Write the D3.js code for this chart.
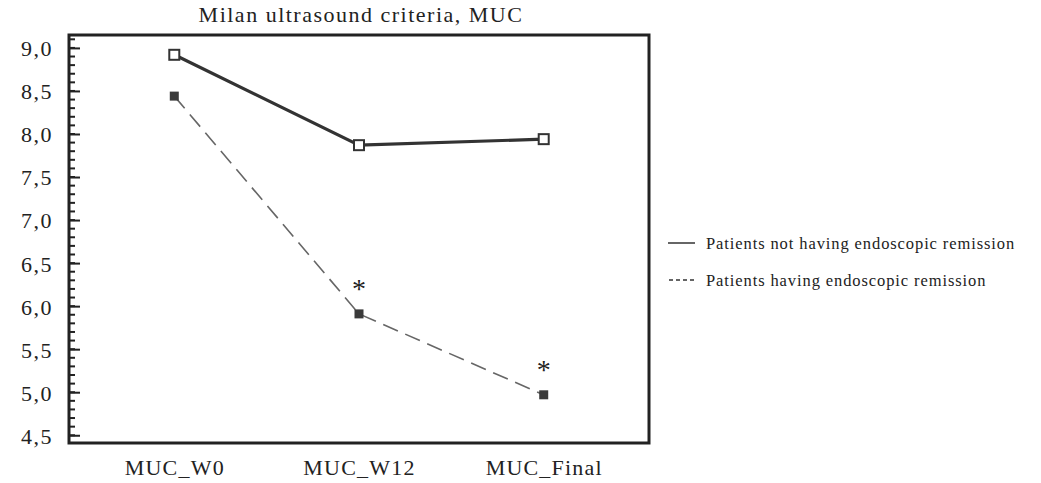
<!DOCTYPE html>
<html><head><meta charset="utf-8">
<script src="https://cdn.jsdelivr.net/npm/d3@7"></script>
<style>body{margin:0;background:#fff}svg{display:block}text{font-family:"Liberation Serif","DejaVu Serif",serif;fill:#222}</style>
</head><body><svg id="c" width="1041" height="483"></svg>
<script>
const categories = ["MUC_W0", "MUC_W12", "MUC_Final"];
const notRemission = [8.92, 7.87, 7.94];
const remission = [8.44, 5.91, 4.97];
const significant = [false, true, true];
const yTicks = [4.5, 5.0, 5.5, 6.0, 6.5, 7.0, 7.5, 8.0, 8.5, 9.0];
const seriesNames = ["Patients not having endoscopic remission", "Patients having endoscopic remission"];
const title = "Milan ultrasound criteria, MUC";

const svg = d3.select("#c");
const L = 69, R = 649, T = 35, B = 443;
const x = d3.scalePoint().domain(categories).range([L, R]).padding(0.57);
const y = d3.scaleLinear().domain([4.41, 9.15]).range([B, T]);
const fmt = v => d3.format(".1f")(v).replace(".", ",");

svg.append("text").attr("x", 361).attr("y", 22).attr("text-anchor", "middle")
  .attr("font-size", 22).attr("letter-spacing", 1.5).text(title);

// minor ticks
const minor = d3.range(4.5, 9.11, 0.1).map(v => +v.toFixed(1));
svg.append("g").selectAll("line").data(minor).join("line")
  .attr("x1", L).attr("x2", L + 6).attr("y1", d => y(d)).attr("y2", d => y(d))
  .attr("stroke", "#222").attr("stroke-width", 2);
// major ticks and labels
const yAxis = d3.axisRight(y).tickValues(yTicks).tickSize(11).tickFormat(fmt);
const gy = svg.append("g").attr("transform", `translate(${L},0)`).call(yAxis);
gy.select(".domain").remove();
gy.selectAll(".tick line").attr("stroke", "#222").attr("stroke-width", 2);
gy.selectAll(".tick text").attr("x", -16).attr("text-anchor", "end").attr("dy", "0.36em")
  .attr("font-size", 22).attr("letter-spacing", 1.5).attr("fill", "#222");

// frame
svg.append("rect").attr("x", L).attr("y", T).attr("width", R - L).attr("height", B - T)
  .attr("fill", "none").attr("stroke", "#222").attr("stroke-width", 3);

// x labels
const xAxis = d3.axisBottom(x).tickSize(0).tickPadding(16);
const gx = svg.append("g").attr("transform", `translate(0,${B})`).call(xAxis);
gx.select(".domain").remove();
gx.selectAll(".tick text").attr("font-size", 22).attr("letter-spacing", 1.2).attr("fill", "#222").attr("dy", "0.71em");

const line = d3.line().x((d, i) => x(categories[i])).y(d => y(d));

svg.append("path").datum(remission).attr("d", line).attr("fill", "none")
  .attr("stroke", "#666").attr("stroke-width", 1.6).attr("stroke-dasharray", "16,8");
svg.append("path").datum(notRemission).attr("d", line).attr("fill", "none")
  .attr("stroke", "#333").attr("stroke-width", 3.2);

svg.append("g").selectAll("rect").data(remission).join("rect")
  .attr("x", (d, i) => x(categories[i]) - 4.5).attr("y", d => y(d) - 4.5)
  .attr("width", 9).attr("height", 9).attr("fill", "#3a3a3a");
svg.append("g").selectAll("rect").data(notRemission).join("rect")
  .attr("x", (d, i) => x(categories[i]) - 5).attr("y", d => y(d) - 5)
  .attr("width", 10).attr("height", 10).attr("fill", "#fff").attr("stroke", "#333").attr("stroke-width", 2);

svg.append("g").selectAll("text").data(remission.map((v, i) => ({v, i})).filter(d => significant[d.i])).join("text")
  .attr("x", d => x(categories[d.i])).attr("y", d => y(d.v) - 16).attr("text-anchor", "middle")
  .attr("font-size", 28).attr("fill", "#333").text("*");

// legend
const lg = svg.append("g");
lg.append("line").attr("x1", 668).attr("x2", 695).attr("y1", 243).attr("y2", 243).attr("stroke", "#333").attr("stroke-width", 1.5);
lg.append("line").attr("x1", 669).attr("x2", 695).attr("y1", 280).attr("y2", 280).attr("stroke", "#333").attr("stroke-width", 1.5).attr("stroke-dasharray", "4,3");
lg.selectAll("text").data(seriesNames).join("text")
  .attr("x", 706).attr("y", (d, i) => 243 + i * 37).attr("dy", "0.35em").attr("font-size", 16.5).attr("letter-spacing", 0.9).text(d => d);
</script></body></html>
